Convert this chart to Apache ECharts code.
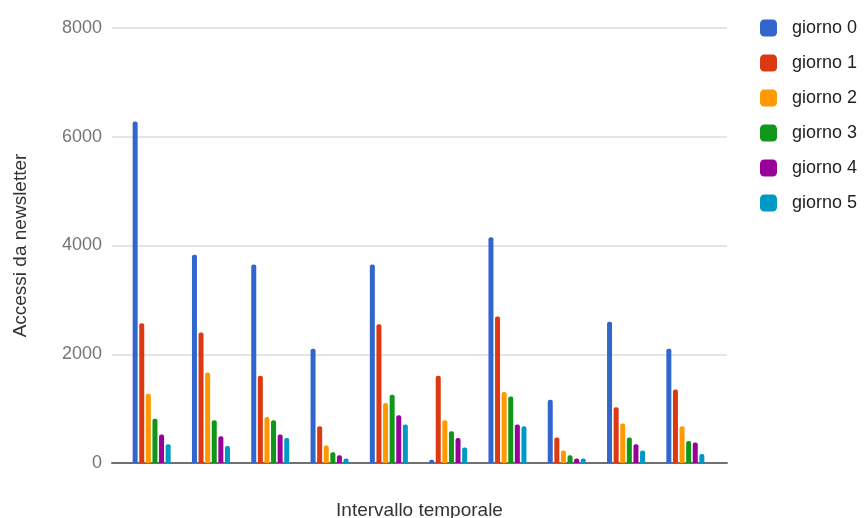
<!DOCTYPE html>
<html>
<head>
<meta charset="utf-8">
<script src="https://cdn.jsdelivr.net/npm/echarts@6/dist/echarts.min.js"></script>
<style>html,body{margin:0;padding:0;background:#fff}#c{width:865px;height:518px}</style>
</head>
<body>
<div id="c"></div>
<script>
var categories = ['1','2','3','4','5','6','7','8','9','10'];
var seriesNames = ['giorno 0','giorno 1','giorno 2','giorno 3','giorno 4','giorno 5'];
var giorno0 = [6280, 3830, 3650, 2100, 3650, 60, 4150, 1165, 2600, 2100];
var giorno1 = [2570, 2400, 1605, 675, 2550, 1605, 2695, 467, 1025, 1350];
var giorno2 = [1275, 1665, 845, 320, 1105, 785, 1305, 228, 725, 675];
var giorno3 = [815, 785, 785, 197, 1255, 583, 1225, 142, 467, 404];
var giorno4 = [522, 491, 522, 142, 877, 460, 706, 81, 344, 375];
var giorno5 = [344, 313, 460, 81, 706, 283, 675, 81, 228, 165];
var yTicks = [0, 2000, 4000, 6000, 8000];
var colors = ['#3366cc','#dc3912','#ff9900','#109618','#990099','#0099c6'];

var FONT = 'Arial, "Liberation Sans", sans-serif';
var values = [giorno0, giorno1, giorno2, giorno3, giorno4, giorno5];
var chart = echarts.init(document.getElementById('c'), null, {renderer: 'canvas'});
var series = seriesNames.map(function (n, i) {
  return {
    name: n, type: 'bar', xAxisIndex: 1, yAxisIndex: 1,
    data: values[i], barWidth: 5, barGap: '32%',
    itemStyle: {color: colors[i], borderRadius: [2, 2, 0, 0]}
  };
});
chart.setOption({
  animation: false,
  textStyle: {fontFamily: FONT},
  color: colors,
  grid: [
    {left: 112, right: 138, top: 28, bottom: 55, containLabel: false, outerBoundsMode: 'none'},
    {left: 122, right: 150, top: 28, bottom: 55, containLabel: false, outerBoundsMode: 'none'}
  ],
  legend: {
    data: seriesNames, orient: 'vertical', left: 755, top: 14,
    itemWidth: 17, itemHeight: 17, itemGap: 17, icon: 'roundRect',
    textStyle: {fontSize: 18, color: '#222', fontFamily: FONT, padding: [0, 0, 0, 10]}
  },
  xAxis: [
    {type: 'value', gridIndex: 0, min: 0, max: 1,
     axisLine: {show: true, onZero: false, lineStyle: {color: '#707070', width: 2}},
     axisTick: {show: false}, axisLabel: {show: false}, splitLine: {show: false},
     name: 'Intervallo temporale', nameLocation: 'middle', nameGap: 38,
     nameTextStyle: {fontSize: 19, color: '#333', fontFamily: FONT}},
    {type: 'category', gridIndex: 1, data: categories,
     axisLine: {show: false}, axisTick: {show: false}, axisLabel: {show: false}}
  ],
  yAxis: [
    {type: 'value', gridIndex: 0, min: 0, max: 8000, interval: 2000,
     axisLine: {show: false}, axisTick: {show: false},
     axisLabel: {fontSize: 18, color: '#757575', margin: 10, fontFamily: FONT,
       formatter: function (v) { return yTicks.indexOf(v) >= 0 ? String(v) : ''; }},
     splitLine: {lineStyle: {color: '#dcdcdc', width: 1.5}},
     name: 'Accessi da newsletter', nameLocation: 'middle', nameGap: 82, nameRotate: 90,
     nameTextStyle: {fontSize: 19, color: '#333', fontFamily: FONT}},
    {type: 'value', gridIndex: 1, min: 0, max: 8000, interval: 2000, show: false}
  ],
  series: series
});
</script>
</body>
</html>
